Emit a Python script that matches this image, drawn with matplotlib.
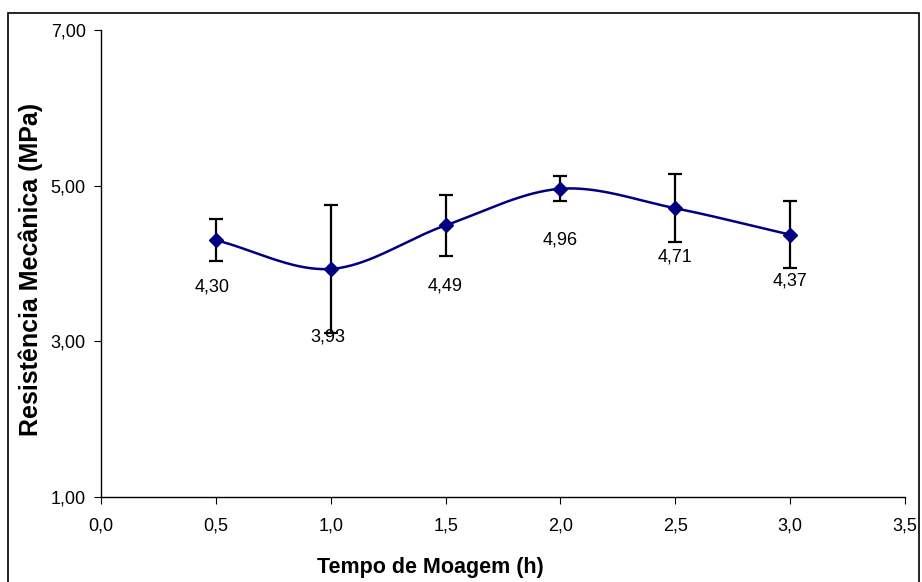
import matplotlib.pyplot as plt
import numpy as np
from matplotlib.patches import Rectangle

plt.rcParams["font.family"] = ["Liberation Sans", "DejaVu Sans"]

# milling time (h) and mechanical strength (MPa)
tempo = [0.5, 1.0, 1.5, 2.0, 2.5, 3.0]
resistencia = [4.30, 3.93, 4.49, 4.96, 4.71, 4.37]
desvio = [0.27, 0.82, 0.39, 0.16, 0.44, 0.43]
rotulos = ["4,30", "3,93", "4,49", "4,96", "4,71", "4,37"]

# label offsets below each point (points)
offset_y = [-34, -49, -44, -37, -35, -33]
offset_x = [-3, -2, 0, 0, 0, 0]


# excel-like smoothed line (catmull-rom through the points)
def smooth(x, y, n=40):
	x = np.asarray(x, float)
	y = np.asarray(y, float)
	px = np.concatenate([[2 * x[0] - x[1]], x, [2 * x[-1] - x[-2]]])
	py = np.concatenate([[2 * y[0] - y[1]], y, [2 * y[-1] - y[-2]]])
	xs, ys = [], []
	t = np.linspace(0, 1, n)
	for i in range(1, len(px) - 2):
		for p, out in ((px, xs), (py, ys)):
			p0, p1, p2, p3 = p[i - 1], p[i], p[i + 1], p[i + 2]
			out.append(0.5 * ((2 * p1) + (-p0 + p2) * t
				+ (2 * p0 - 5 * p1 + 4 * p2 - p3) * t ** 2
				+ (-p0 + 3 * p1 - 3 * p2 + p3) * t ** 3))
	return np.concatenate(xs), np.concatenate(ys)


fig = plt.figure(figsize=(9.22, 5.82), dpi=100)
ax = fig.add_axes([101 / 922, 1 - 497 / 582, (905 - 101) / 922, (497 - 30) / 582])

sx, sy = smooth(tempo, resistencia)
ax.plot(sx, sy, color="#000080", lw=1.8, zorder=2)
ax.errorbar(tempo, resistencia, yerr=desvio, fmt="none", ecolor="black",
	elinewidth=1.6, capsize=5, capthick=1.6, zorder=3)
ax.plot(tempo, resistencia, "D", color="#000080", ms=7, zorder=4)

for x, y, s, dx, dy in zip(tempo, resistencia, rotulos, offset_x, offset_y):
	ax.annotate(s, (x, y), xytext=(dx, dy), textcoords="offset points",
		ha="center", va="center", fontsize=13, zorder=5)

ax.set_xlim(0, 3.5)
ax.set_ylim(1, 7)
ax.set_xticks(np.arange(0, 3.51, 0.5))
ax.set_yticks([1, 3, 5, 7])
ax.set_xticklabels([f"{v:.1f}".replace(".", ",") for v in np.arange(0, 3.51, 0.5)])
ax.set_yticklabels([f"{v:.2f}".replace(".", ",") for v in [1, 3, 5, 7]])
ax.tick_params(direction="out", length=5, labelsize=13)
ax.tick_params(axis="x", pad=10)
ax.tick_params(axis="y", pad=6)
ax.spines["top"].set_visible(False)
ax.spines["right"].set_visible(False)
for s in ("left", "bottom"):
	ax.spines[s].set_linewidth(1.0)

ax.set_xlabel("Tempo de Moagem (h)", fontsize=15.5, fontweight="bold", va="baseline")
ax.xaxis.set_label_coords(0.41, (497 - 573) / 467)
ax.set_ylabel("Resistência Mecânica (MPa)", fontsize=18, fontweight="bold")
ax.yaxis.set_label_coords((43 - 101) / 804, 0.488)

# chart-area frame
fig.patches.append(Rectangle((8 / 922, -0.02), (919 - 8) / 922, 1 - 13 / 582 + 0.02,
	transform=fig.transFigure, fill=False, edgecolor="black", lw=1.2))

fig.savefig("out.png", dpi=100)
